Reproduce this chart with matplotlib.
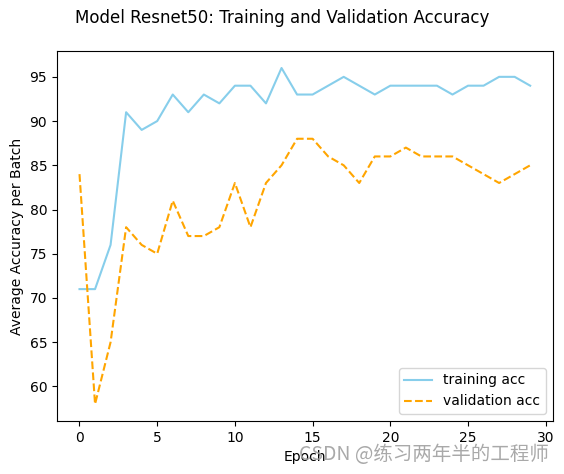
import matplotlib.pyplot as plt

epochs = list(range(30))
train_acc = [71, 71, 76, 91, 89, 90, 93, 91, 93, 92,
             94, 94, 92, 96, 93, 93, 94, 95, 94, 93,
             94, 94, 94, 94, 93, 94, 94, 95, 95, 94]
val_acc = [84, 58, 65, 78, 76, 75, 81, 77, 77, 78,
           83, 78, 83, 85, 88, 88, 86, 85, 83, 86,
           86, 87, 86, 86, 86, 85, 84, 83, 84, 85]

fig = plt.figure(figsize=(5.64, 4.74), dpi=100)
ax = fig.add_axes([0.101, 0.112, 0.879, 0.780])
ax.plot(epochs, train_acc, color='skyblue', label='training acc')
ax.plot(epochs, val_acc, color='orange', linestyle='--', label='validation acc')
ax.set_xlabel('Epoch')
ax.set_ylabel('Average Accuracy per Batch')
ax.set_xticks([0, 5, 10, 15, 20, 25, 30])
ax.legend(loc='lower right')
fig.suptitle('Model Resnet50: Training and Validation Accuracy', y=0.982)

# watermark from the source image
fig.text(0.973, 0.018, 'CSDN @练习两年半的工程师', ha='right', va='bottom',
         fontsize=14, color='#a0a0a0', alpha=0.9,
         family=['Noto Sans CJK SC', 'DejaVu Sans'])

fig.savefig('out.png', dpi=100)
